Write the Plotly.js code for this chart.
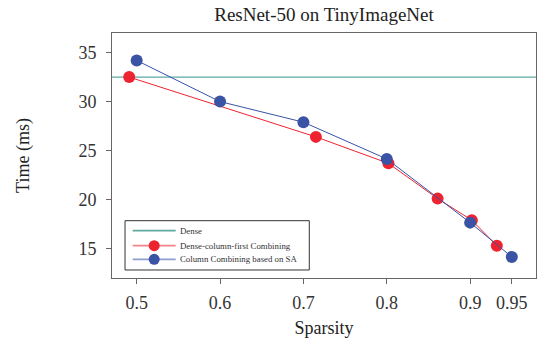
<!DOCTYPE html>
<html><head><meta charset="utf-8">
<script src="https://cdn.plot.ly/plotly-3.0.1.min.js"></script>
<style>html,body{margin:0;padding:0;background:#fff}#chart{width:537px;height:345px}</style>
</head><body><div id="chart"></div>
<script>
var denseX = [0.4704, 0.979];
var denseY = [32.5, 32.5];
var redX = [0.491, 0.715, 0.802, 0.861, 0.902, 0.932];
var redY = [32.5, 26.4, 23.7, 20.1, 17.9, 15.3];
var blueX = [0.5, 0.6, 0.7, 0.8, 0.9, 0.95];
var blueY = [34.2, 30.0, 27.9, 24.15, 17.65, 14.15];
var xTicks = [0.5, 0.6, 0.7, 0.8, 0.9, 0.95];
var xTickText = ['0.5', '0.6', '0.7', '0.8', '0.9', '0.95'];
var yTicks = [15, 20, 25, 30, 35];
var seriesNames = ['Dense', 'Dense-column-first Combining', 'Column Combining based on SA'];

var serif = 'Liberation Serif, Times New Roman, serif';
var colors = ['#5fa9a1', '#ee2330', '#3a53a4'];
var sampleColors = ['#5fa9a1', '#f2838a', '#8d9fd0'];
var traces = [
  {x: denseX, y: denseY, mode: 'lines', name: seriesNames[0], line: {color: colors[0], width: 1.3}},
  {x: redX, y: redY, mode: 'lines+markers', name: seriesNames[1],
   line: {color: colors[1], width: 1}, marker: {color: colors[1], size: 12}},
  {x: blueX, y: blueY, mode: 'lines+markers', name: seriesNames[2],
   line: {color: colors[2], width: 1}, marker: {color: colors[2], size: 12}}
];

// custom legend (paper coordinates of the plot area)
var shapes = [{type: 'rect', xref: 'paper', yref: 'paper', x0: 0.0307, x1: 0.4653, y0: 0.0327, y1: 0.2339,
  line: {color: '#333', width: 1}, fillcolor: '#fff', layer: 'above'}];
var annotations = [];
var rowY = [0.1931, 0.1318, 0.0763];
for (var i = 0; i < seriesNames.length; i++) {
  shapes.push({type: 'line', xref: 'paper', yref: 'paper', x0: 0.0488, x1: 0.1502, y0: rowY[i], y1: rowY[i],
    line: {color: sampleColors[i], width: 1.8}, layer: 'above'});
  if (i > 0) {
    shapes.push({type: 'circle', xref: 'paper', yref: 'paper', xsizemode: 'pixel', ysizemode: 'pixel',
      xanchor: 0.0995, yanchor: rowY[i], x0: -5.5, x1: 5.5, y0: -5.5, y1: 5.5,
      fillcolor: colors[i], line: {color: colors[i], width: 0}, layer: 'above'});
  }
  annotations.push({xref: 'paper', yref: 'paper', x: 0.1564, y: rowY[i], xanchor: 'left', yanchor: 'middle',
    text: seriesNames[i], showarrow: false, font: {family: serif, size: 8.8, color: '#333'}});
}

var layout = {
  width: 537, height: 345,
  margin: {l: 112, r: 1, t: 33, b: 67},
  paper_bgcolor: '#fff', plot_bgcolor: '#fff',
  showlegend: false,
  shapes: shapes, annotations: annotations,
  title: {text: 'ResNet-50 on TinyImageNet', font: {family: serif, size: 19, color: '#222', weight: 'normal'},
    xref: 'paper', x: 0.5, xanchor: 'center', y: 0.957, yanchor: 'middle'},
  xaxis: {range: [0.4704, 0.979], tickvals: xTicks, ticktext: xTickText, showgrid: false, zeroline: false,
    showline: true, mirror: true, linecolor: '#666', linewidth: 1, ticks: 'outside', ticklen: 5, tickcolor: '#666',
    ticklabelstandoff: 3,
    tickfont: {family: serif, size: 18, color: '#333'},
    title: {text: 'Sparsity', font: {family: serif, size: 18, color: '#222'}, standoff: 9}},
  yaxis: {range: [12, 37], tickvals: yTicks, showgrid: false, zeroline: false,
    showline: true, mirror: true, linecolor: '#666', linewidth: 1, ticks: 'outside', ticklen: 5, tickcolor: '#666',
    ticklabelstandoff: 6,
    tickfont: {family: serif, size: 18, color: '#333'},
    title: {text: 'Time (ms)', font: {family: serif, size: 18, color: '#222'}, standoff: 44}}
};
Plotly.newPlot('chart', traces, layout, {displayModeBar: false, staticPlot: true});
</script></body></html>
